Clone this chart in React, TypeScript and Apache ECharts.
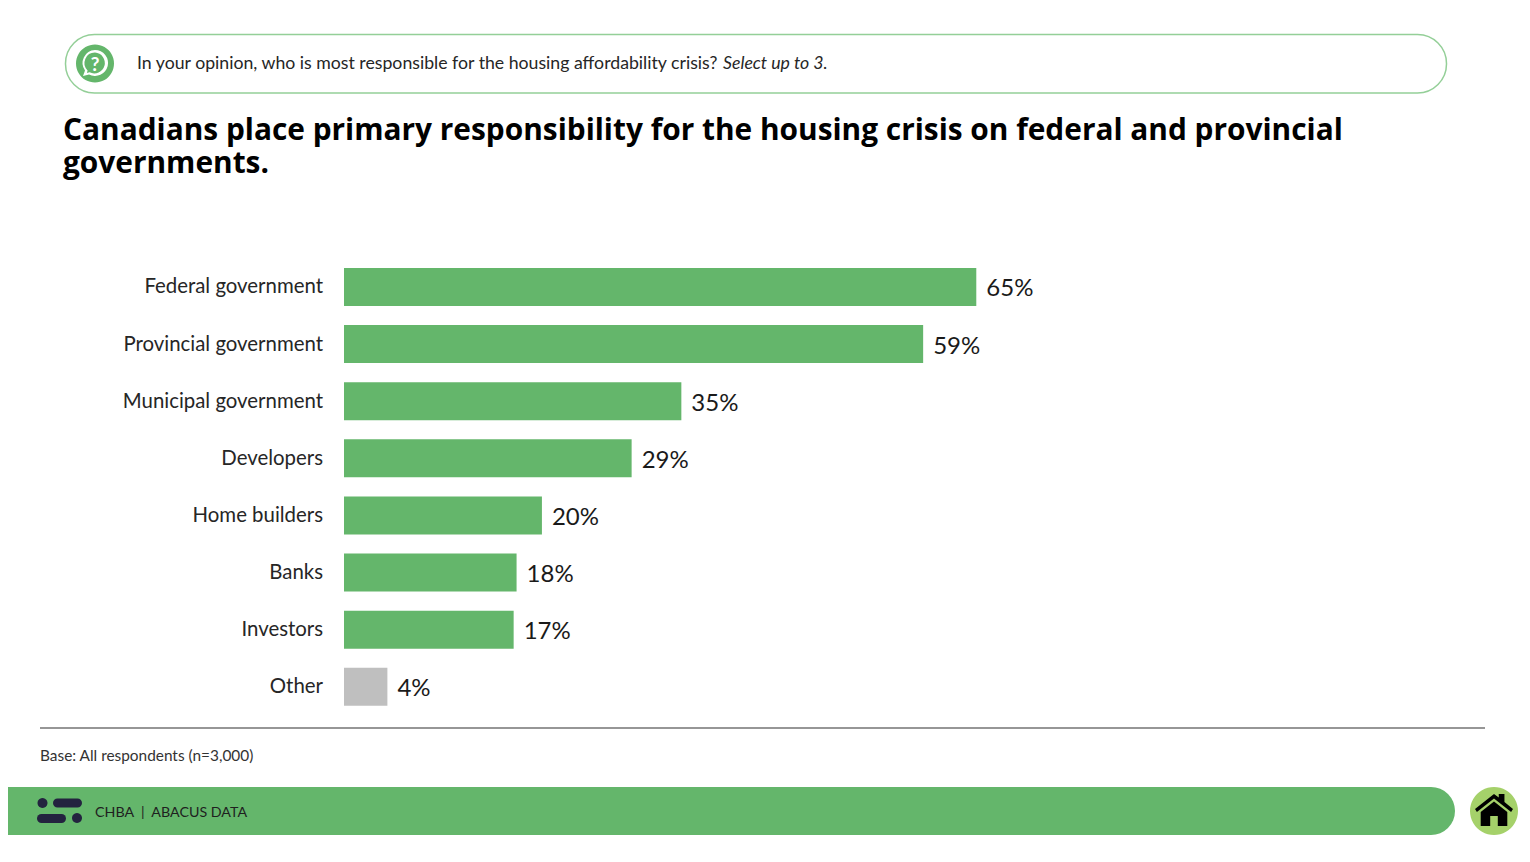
import React, { useEffect, useRef } from "react";
import * as echarts from "echarts";

const categories = ["Federal government", "Provincial government", "Municipal government", "Developers", "Home builders", "Banks", "Investors", "Other"];
const values = [64.85, 59.4, 34.6, 29.5, 20.3, 17.7, 17.4, 4.45];
const shownLabels = ["65%", "59%", "35%", "29%", "20%", "18%", "17%", "4%"];
const questionText = "In your opinion, who is most responsible for the housing affordability crisis? ";
const questionHint = "Select up to 3.";
const titleLines = ["Canadians place primary responsibility for the housing crisis on federal and provincial", "governments."];
const baseNote = "Base: All respondents (n=3,000)";
const footerText = "CHBA  |  ABACUS DATA";

const GREEN = "#64b66b";
const GREY = "#bfbfbf";
const FONT = "Lato";

echarts.graphic.registerShape(
  "homeIcon",
  echarts.graphic.extendPath("M0 15 L20 0 L25 3.5 L25 0 L31 0 L31 8 L40 15 L38 18 L20 4.5 L2 18 Z M6 18 L20 7.5 L34 18 L34 32 L24 32 L24 22 L16 22 L16 32 L6 32 Z", {})
);
echarts.graphic.registerShape(
  "bubbleIcon",
  echarts.graphic.extendPath("M13 0 A13 13 0 1 1 7 24.5 L1 26 L3 20.5 A13 13 0 0 1 13 0 Z M13 2.6 A10.4 10.4 0 0 0 5.6 20.4 L4.9 23 L7.6 22.2 A10.4 10.4 0 1 0 13 2.6 Z", {})
);

export default function App() {
  const ref = useRef<HTMLDivElement>(null);
  useEffect(() => {
    const chart = echarts.init(ref.current!, undefined, { renderer: "svg" });
    chart.setOption({
      animation: false,
      backgroundColor: "#ffffff",
      grid: { left: 344, top: 258.4, width: 975, height: 457, containLabel: false },
      xAxis: { type: "value", min: 0, max: 100, show: false },
      yAxis: {
        type: "category",
        inverse: true,
        data: categories,
        axisLine: { show: false },
        axisTick: { show: false },
        axisLabel: {
          margin: 21,
          formatter: "{a|{value}}",
          rich: { a: { fontFamily: FONT, fontSize: 20.4, color: "#262626", padding: [0, 0, 3, 0] } },
        },
      },
      series: [
        {
          type: "bar",
          barWidth: 38,
          data: values.map((v, i) => ({ value: v, itemStyle: { color: i === values.length - 1 ? GREY : GREEN } })),
          label: {
            show: true,
            position: "right",
            distance: 10,
            fontFamily: FONT,
            fontSize: 24,
            color: "#1a1a1a",
            formatter: (p: any) => shownLabels[p.dataIndex],
          },
        },
      ],
      graphic: [
        { type: "rect", shape: { x: 65.5, y: 34.5, width: 1381, height: 58.5, r: 29 }, style: { fill: "#fff", stroke: "#94cf98", lineWidth: 1.5 } },
        { type: "circle", shape: { cx: 95, cy: 63.5, r: 19 }, style: { fill: GREEN } },
        { type: "bubbleIcon", x: 82, y: 50, style: { fill: "#fff" } },
        { type: "text", x: 95, y: 63, style: { text: "?", fill: "#fff", font: `bold 19px ${FONT}`, align: "center", verticalAlign: "middle" } },
        { type: "text", x: 137, y: 62, style: { text: questionText, fill: "#262626", font: `17.7px ${FONT}`, verticalAlign: "middle" } },
        { type: "text", x: 723, y: 62, style: { text: questionHint, fill: "#262626", font: `italic 17.7px ${FONT}`, verticalAlign: "middle" } },
        { type: "text", x: 63, y: 112, style: { text: titleLines.join("\n"), fill: "#000", font: `bold 29.85px "Open Sans"`, lineHeight: 33, verticalAlign: "top" } },
        { type: "line", shape: { x1: 40, y1: 728, x2: 1485, y2: 728 }, style: { stroke: "#2e2e2e", lineWidth: 1.2 } },
        { type: "text", x: 40, y: 755, style: { text: baseNote, fill: "#333", font: `15.4px ${FONT}`, verticalAlign: "middle" } },
        { type: "rect", shape: { x: 8, y: 787, width: 1447, height: 48, r: [0, 24, 24, 0] }, style: { fill: GREEN } },
        { type: "circle", shape: { cx: 42.5, cy: 803, r: 5 }, style: { fill: "#23233f" } },
        { type: "rect", shape: { x: 53, y: 798.5, width: 29, height: 9, r: 4.5 }, style: { fill: "#23233f" } },
        { type: "rect", shape: { x: 37, y: 814, width: 29, height: 9, r: 4.5 }, style: { fill: "#23233f" } },
        { type: "circle", shape: { cx: 77, cy: 818, r: 5 }, style: { fill: "#23233f" } },
        { type: "text", x: 95, y: 811, style: { text: footerText, fill: "#1f1f1f", font: `14.25px ${FONT}`, verticalAlign: "middle" } },
        { type: "circle", shape: { cx: 1494, cy: 811, r: 24 }, style: { fill: "#a5d16a" } },
        { type: "homeIcon", x: 1475, y: 794, scaleX: 0.95, scaleY: 1, style: { fill: "#000" } },
      ],
    });
    return () => chart.dispose();
  }, []);
  return <div ref={ref} style={{ position: "absolute", left: 0, top: 0, width: 1530, height: 862 }} />;
}
